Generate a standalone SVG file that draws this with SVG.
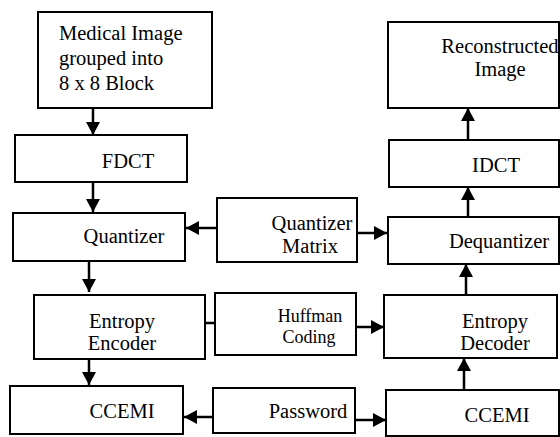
<svg xmlns="http://www.w3.org/2000/svg" width="560" height="437" viewBox="0 0 560 437">
<defs>
<style>
.box{fill:#fff;stroke:#000;stroke-width:2}
.t{font-family:"Liberation Serif","Times New Roman",serif;font-size:20.5px;fill:#000}
.s{font-size:18px}
.c{stroke:#000;stroke-width:2.5;fill:none}
</style>
<marker id="ah" markerUnits="userSpaceOnUse" markerWidth="14" markerHeight="14" viewBox="0 0 14 14" refX="13" refY="7" orient="auto">
<path d="M0,0 L13,7 L0,14 Z" fill="#000"/>
</marker>
</defs>
<rect width="560" height="437" fill="#fff"/>
<g id="connectors">
<line class="c" x1="93" y1="108" x2="93" y2="135" marker-end="url(#ah)"/>
<line class="c" x1="93" y1="182" x2="93" y2="212" marker-end="url(#ah)"/>
<line class="c" x1="89" y1="261" x2="89" y2="292" marker-end="url(#ah)"/>
<line class="c" x1="89" y1="359" x2="89" y2="385" marker-end="url(#ah)"/>
<line class="c" x1="468" y1="140" x2="468" y2="108" marker-end="url(#ah)"/>
<line class="c" x1="468" y1="217" x2="468" y2="187" marker-end="url(#ah)"/>
<line class="c" x1="466" y1="295" x2="466" y2="264" marker-end="url(#ah)"/>
<line class="c" x1="464" y1="390" x2="464" y2="358" marker-end="url(#ah)"/>
<line class="c" x1="217" y1="228" x2="186" y2="228" marker-end="url(#ah)"/>
<line class="c" x1="357" y1="233" x2="387" y2="233" marker-end="url(#ah)"/>
<line class="c" x1="205" y1="323" x2="215" y2="323"/>
<line class="c" x1="356" y1="327" x2="384" y2="327" marker-end="url(#ah)"/>
<line class="c" x1="213" y1="417" x2="184" y2="417" marker-end="url(#ah)"/>
<line class="c" x1="355" y1="420" x2="386" y2="420" marker-end="url(#ah)"/>
</g>
<g id="medical-image">
<rect class="box" x="38" y="12" width="174" height="96"/>
<text class="t" x="59" y="40">Medical Image</text>
<text class="t" x="59" y="65">grouped into</text>
<text class="t" x="59" y="90">8 x 8 Block</text>
</g>
<g id="fdct">
<rect class="box" x="15" y="135" width="172" height="47"/>
<text class="t" x="128" y="168" text-anchor="middle">FDCT</text>
</g>
<g id="quantizer">
<rect class="box" x="13" y="213" width="172" height="48"/>
<text class="t" x="124" y="243" text-anchor="middle">Quantizer</text>
</g>
<g id="entropy-encoder">
<rect class="box" x="34" y="295" width="171" height="64"/>
<text class="t" x="122" y="328" text-anchor="middle">Entropy</text>
<text class="t" x="122" y="350" text-anchor="middle">Encoder</text>
</g>
<g id="ccemi-left">
<rect class="box" x="10" y="386" width="173" height="48"/>
<text class="t" x="122" y="418" text-anchor="middle">CCEMI</text>
</g>
<g id="quantizer-matrix">
<rect class="box" x="217" y="198" width="140" height="64"/>
<text class="t" x="312" y="230" text-anchor="middle">Quantizer</text>
<text class="t" x="310" y="253" text-anchor="middle">Matrix</text>
</g>
<g id="huffman-coding">
<rect class="box" x="215" y="293" width="141" height="62"/>
<text class="t s" x="310" y="322" text-anchor="middle">Huffman</text>
<text class="t s" x="309" y="343" text-anchor="middle">Coding</text>
</g>
<g id="password">
<rect class="box" x="213" y="388" width="142" height="45"/>
<text class="t" x="308" y="418" text-anchor="middle">Password</text>
</g>
<g id="reconstructed-image">
<rect class="box" x="388" y="22" width="171" height="86"/>
<text class="t" x="500" y="53" text-anchor="middle">Reconstructed</text>
<text class="t" x="500" y="76" text-anchor="middle">Image</text>
</g>
<g id="idct">
<rect class="box" x="389" y="140" width="170" height="47"/>
<text class="t" x="496" y="172" text-anchor="middle">IDCT</text>
</g>
<g id="dequantizer">
<rect class="box" x="388" y="217" width="171" height="47"/>
<text class="t" x="499" y="248" text-anchor="middle">Dequantizer</text>
</g>
<g id="entropy-decoder">
<rect class="box" x="384" y="295" width="173" height="63"/>
<text class="t" x="495" y="328" text-anchor="middle">Entropy</text>
<text class="t" x="495" y="350" text-anchor="middle">Decoder</text>
</g>
<g id="ccemi-right">
<rect class="box" x="386" y="390" width="173" height="46"/>
<text class="t" x="497" y="422" text-anchor="middle">CCEMI</text>
</g>
</svg>
